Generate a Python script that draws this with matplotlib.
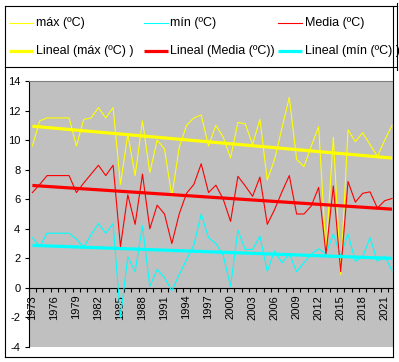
import numpy as np
import matplotlib
matplotlib.use('Agg')
import matplotlib.pyplot as plt
from matplotlib.lines import Line2D

# ---------------- data ----------------
years = list(range(1973, 2023))
tmax = [9.6, 11.3, 11.5, 11.5, 11.5, 11.5, 9.6, 11.4, 11.5, 12.2,
        11.5, 12.2, 7.0, 10.4, 7.6, 11.3, 7.8, 10.0, 9.4, 6.2,
        9.5, 11.0, 11.5, 11.7, 9.6, 11.0, 10.2, 8.8, 11.2, 11.1,
        9.7, 11.4, 7.3, 8.7, 10.8, 12.9, 8.7, 8.2, 9.6, 10.9,
        2.5, 10.2, 0.9, 10.7, 9.9, 10.5, 9.7, 8.9, 10.0, 11.0]
tmin = [3.4, 2.8, 3.7, 3.7, 3.7, 3.7, 3.3, 2.75, 3.6, 4.35,
        3.7, 4.35, -2.0, 2.1, 1.1, 4.2, 0.1, 1.25, 0.7, -0.2,
        0.9, 1.9, 2.9, 5.0, 3.4, 3.0, 2.2, 0.1, 3.9, 2.6,
        2.6, 3.5, 1.13, 2.5, 1.7, 2.3, 1.1, 1.7, 2.3, 2.65,
        2.3, 3.65, 2.15, 3.65, 1.8, 2.1, 3.4, 1.8, 2.15, 1.15]
tmedia = [6.45, 7.0, 7.6, 7.6, 7.6, 7.6, 6.45, 7.1, 7.7, 8.3,
          7.6, 8.3, 2.8, 6.3, 4.3, 7.7, 4.0, 5.6, 5.0, 3.0,
          5.0, 6.4, 7.0, 8.4, 6.45, 6.95, 6.0, 4.5, 7.55, 6.9,
          6.2, 7.5, 4.3, 5.3, 6.5, 7.6, 5.0, 5.0, 5.55, 6.8,
          2.3, 6.9, 1.1, 7.2, 5.8, 6.4, 6.5, 5.4, 5.9, 6.05]
series_labels = ['máx (ºC)', 'mín (ºC)', 'Media (ºC)']
trend_labels = ['Lineal (máx (ºC) )', 'Lineal (Media (ºC))', 'Lineal (mín (ºC) )']
yticks = list(range(-4, 15, 2))
xtick_years = list(range(1973, 2022, 3))

YELLOW, CYAN, RED = '#FFFF00', '#00FFFF', '#FF0000'

plt.rcParams['font.family'] = ['Liberation Sans', 'DejaVu Sans']

W, H = 399, 362
fig = plt.figure(figsize=(W / 100, H / 100), dpi=100)
fig.patch.set_facecolor('white')


def fx(px):
    return px / W


def fy(py):
    return 1 - py / H


ax_l, ax_r, ax_t, ax_b = 28.7, 393.3, 81, 347
ax = fig.add_axes([fx(ax_l), fy(ax_b), fx(ax_r) - fx(ax_l), fy(ax_t) - fy(ax_b)])
ax.set_facecolor('#C0C0C0')

x = np.arange(len(years))
ax.plot(x, tmax, color=YELLOW, lw=0.8, zorder=3)
ax.plot(x, tmin, color=CYAN, lw=0.8, zorder=3)
ax.plot(x, tmedia, color=RED, lw=0.8, zorder=3)
for vals, c in [(tmax, YELLOW), (tmedia, RED), (tmin, CYAN)]:
    p = np.polyfit(x, vals, 1)
    ax.plot(x, np.polyval(p, x), color=c, lw=2.3, zorder=4, solid_capstyle='butt')

ax.set_xlim(-0.5, 49.17)
ax.set_ylim(-4, 14)

# spines
ax.spines['bottom'].set_position(('data', 0))
ax.spines['bottom'].set_color('black')
ax.spines['bottom'].set_linewidth(0.8)
ax.spines['left'].set_color('black')
ax.spines['left'].set_linewidth(0.8)
ax.spines['top'].set_color('#808080')
ax.spines['top'].set_linewidth(0.8)
ax.spines['right'].set_visible(False)

# x ticks: labels at category centres, tick marks at category boundaries
ax.set_xticks([years.index(y) for y in xtick_years])
ax.set_xticklabels([str(y) for y in xtick_years], rotation=90, fontsize=8)
ax.set_xticks(np.arange(-0.5, 49.5, 1), minor=True)
ax.tick_params(axis='x', which='major', length=0, pad=5)
ax.tick_params(axis='x', which='minor', length=3, width=0.8, direction='out', color='black')
for lbl in ax.get_xticklabels():
    lbl.set_verticalalignment('top')

ax.set_yticks(yticks)
ax.set_yticklabels([str(v) for v in yticks], fontsize=8)
ax.tick_params(axis='y', length=3, width=0.8, direction='out', pad=3)

# chart border
for xs, ys in [([5, 5], [6, 357]), ([5, 393.3], [357, 357]), ([393.3, 393.3], [6, 357]),
               ([5, 396.7], [6, 6])]:
    fig.add_artist(Line2D([fx(v) for v in xs], [fy(v) for v in ys], color='black', lw=0.8))
# legend box
for xs, ys in [([5, 396.7], [66.7, 66.7]), ([396.7, 396.7], [3, 70])]:
    fig.add_artist(Line2D([fx(v) for v in xs], [fy(v) for v in ys], color='black', lw=0.8))

# legend entries
cols = [9.3, 143.5, 278]
row1, row2 = 22.7, 51
for cx, lbl, c in zip(cols, series_labels, [YELLOW, CYAN, RED]):
    fig.add_artist(Line2D([fx(cx), fx(cx + 24)], [fy(row1), fy(row1)], color=c, lw=0.8))
    fig.text(fx(cx + 27), fy(row1), lbl, fontsize=9, va='center', ha='left')
for cx, lbl, c in zip(cols, trend_labels, [YELLOW, RED, CYAN]):
    fig.add_artist(Line2D([fx(cx), fx(cx + 24)], [fy(row2), fy(row2)], color=c, lw=2.3,
                          solid_capstyle='butt'))
    fig.text(fx(cx + 27), fy(row2), lbl, fontsize=9, va='center', ha='left')

fig.savefig('out.png', dpi=100, facecolor='white')
